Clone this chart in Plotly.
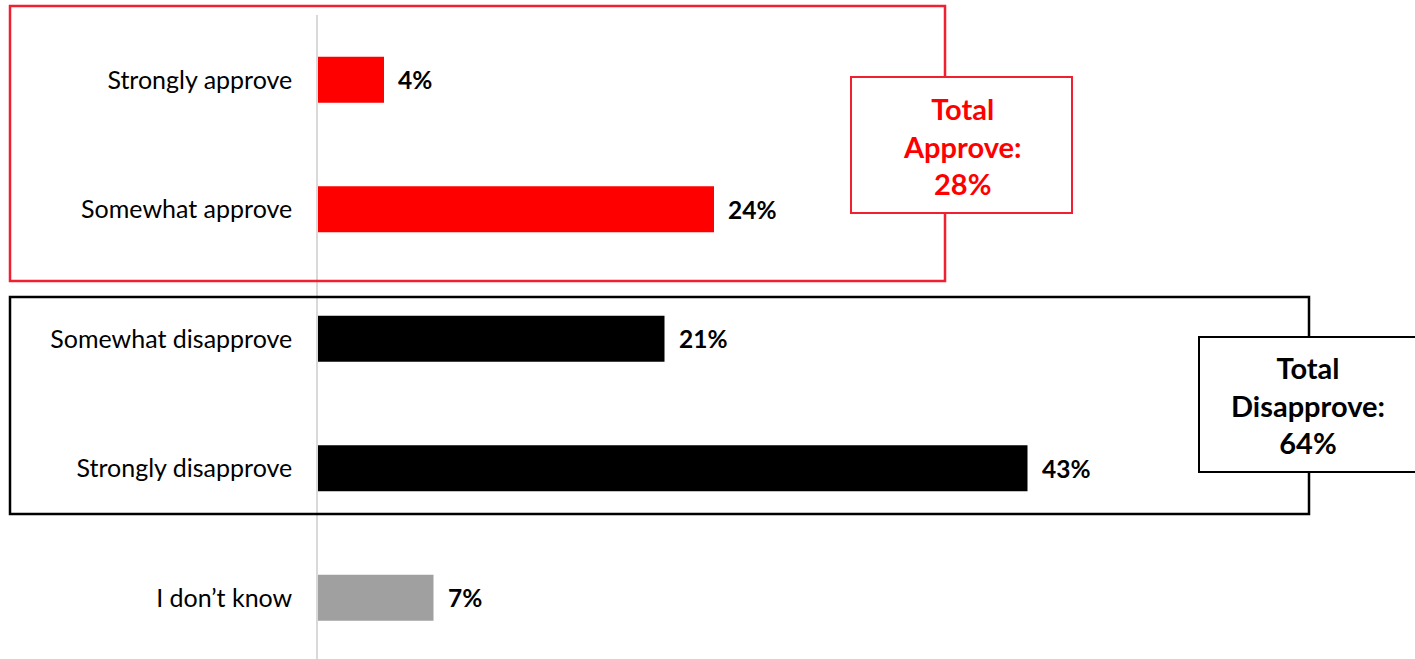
import plotly.graph_objects as go

categories = ["Strongly approve", "Somewhat approve", "Somewhat disapprove",
              "Strongly disapprove", "I don\u2019t know"]
values = [4, 24, 21, 43, 7]
bar_labels = ["4%", "24%", "21%", "43%", "7%"]
bar_colors = ["#FF0000", "#FF0000", "#000000", "#000000", "#A0A0A0"]
total_approve_label = "Total<br>Approve:<br>28%"
total_disapprove_label = "Total<br>Disapprove:<br>64%"

W, H = 1415, 659
ML, MT, MB, MR = 318, 15, 0, 0
PW, PH = W - ML - MR, H - MT - MB
PX_PER_UNIT = 16.5
ROW_PX = 129.5

FONT = "Lato"

def px(x):
    return (x - ML) / PW

def py(y):
    return (H - MB - y) / PH

fig = go.Figure()
fig.add_trace(go.Bar(
    y=categories, x=values, orientation="h",
    marker=dict(color=bar_colors, line=dict(width=0)),
    width=0.355, hoverinfo="skip",
))

for c, v, t in zip(categories, values, bar_labels):
    fig.add_annotation(x=v, y=c, text="<b>%s</b>" % t, showarrow=False,
                       xanchor="left", yanchor="middle", xshift=12,
                       font=dict(family=FONT, size=24.5, color="#000000"))

shapes = []
shapes.append(dict(type="rect", xref="paper", yref="paper",
                   x0=px(10), x1=px(945), y0=py(281), y1=py(6),
                   line=dict(color="#F02030", width=2.5), fillcolor="rgba(0,0,0,0)",
                   layer="above"))
shapes.append(dict(type="rect", xref="paper", yref="paper",
                   x0=px(10), x1=px(1309), y0=py(514), y1=py(297),
                   line=dict(color="#000000", width=2.5), fillcolor="rgba(0,0,0,0)",
                   layer="above"))
shapes.append(dict(type="rect", xref="paper", yref="paper",
                   x0=px(851), x1=px(1072), y0=py(213), y1=py(77),
                   line=dict(color="#F02030", width=2), fillcolor="#FFFFFF",
                   layer="above"))
shapes.append(dict(type="rect", xref="paper", yref="paper",
                   x0=px(1199), x1=px(1430), y0=py(472), y1=py(337),
                   line=dict(color="#000000", width=2), fillcolor="#FFFFFF",
                   layer="above"))

fig.add_annotation(xref="paper", yref="paper", x=px(962), y=py(146),
                   text="<b>%s</b>" % total_approve_label, showarrow=False,
                   xanchor="center", yanchor="middle", align="center",
                   font=dict(family=FONT, size=29, color="#FF0000"))
fig.add_annotation(xref="paper", yref="paper", x=px(1308), y=py(405),
                   text="<b>%s</b>" % total_disapprove_label, showarrow=False,
                   xanchor="center", yanchor="middle", align="center",
                   font=dict(family=FONT, size=29, color="#000000"))

span = PH / ROW_PX
fig.update_layout(
    width=W, height=H,
    margin=dict(l=ML, r=MR, t=MT, b=MB),
    plot_bgcolor="#FFFFFF", paper_bgcolor="#FFFFFF",
    showlegend=False,
    shapes=shapes,
    xaxis=dict(range=[0, PW / PX_PER_UNIT], visible=False, fixedrange=True),
    yaxis=dict(range=[-0.5 + span, -0.5], showgrid=False, zeroline=False,
               showline=True, linecolor="#D9D9D9", linewidth=1.5,
               ticks="", ticklabelstandoff=19,
               tickfont=dict(family=FONT, size=25, color="#000000"),
               fixedrange=True),
)

fig.write_html("out.html", config={"displayModeBar": False},
               post_script="document.body.style.margin='0px';document.body.style.overflow='hidden';")
